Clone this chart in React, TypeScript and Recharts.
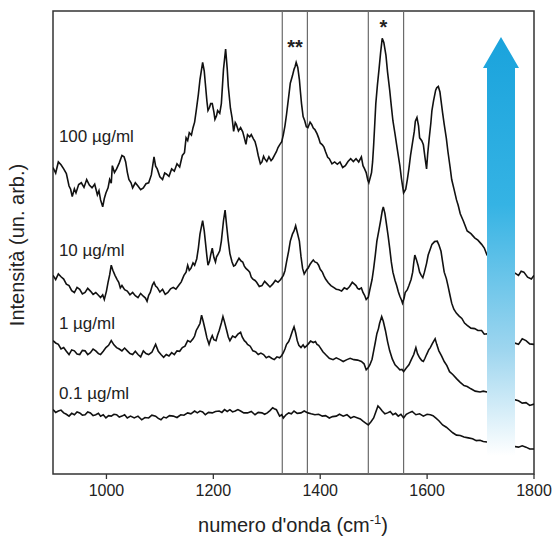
import React from "react";
import {
  LineChart,
  Line,
  XAxis,
  YAxis,
  ReferenceLine,
  ReferenceArea,
  ReferenceDot,
} from "recharts";

// wavenumber (cm-1), intensity (arb. units, stacked spectra)
const conc100: [number, number][] = [
  [900, 66.2], [905, 65.0], [910, 67.4], [915, 66.8], [920, 65.9], [925, 64.9], [930, 62.2], [933, 61.5],
  [936, 59.9], [940, 61.6], [943, 60.7], [948, 62.5], [953, 62.9], [958, 61.9], [963, 63.6], [968, 62.4],
  [973, 61.8], [978, 62.6], [983, 60.3], [986, 61.2], [989, 59.2], [993, 57.7], [996, 59.5], [999, 60.7],
  [1003, 61.8], [1006, 63.6], [1009, 62.8], [1011, 66.6], [1015, 65.1], [1019, 65.9], [1024, 67.2],
  [1029, 68.8], [1033, 68.5], [1036, 67.4], [1039, 65.2], [1042, 63.6], [1046, 62.9], [1049, 61.8],
  [1054, 62.9], [1059, 62.2], [1064, 61.4], [1069, 61.8], [1074, 62.7], [1079, 62.9], [1084, 64.6],
  [1089, 68.5], [1092, 66.5], [1095, 65.9], [1100, 64.2], [1105, 63.6], [1109, 65.0], [1112, 64.8],
  [1117, 64.3], [1122, 65.9], [1127, 65.4], [1132, 67.0], [1137, 66.3], [1142, 68.8], [1146, 69.4],
  [1149, 72.6], [1152, 72.0], [1155, 73.7], [1159, 73.2], [1162, 74.8], [1165, 76.0], [1168, 78.5],
  [1172, 82.0], [1175, 85.2], [1180, 88.9], [1183, 87.0], [1185, 84.4], [1188, 80.5], [1190, 78.5],
  [1193, 79.2], [1195, 80.0], [1198, 80.0], [1201, 78.2], [1203, 76.6], [1206, 77.4], [1208, 78.5],
  [1212, 77.9], [1215, 80.0], [1219, 87.4], [1223, 91.8], [1226, 87.5], [1228, 83.7], [1232, 79.0],
  [1235, 77.0], [1238, 74.0], [1241, 75.9], [1243, 75.5], [1247, 74.1], [1251, 74.8], [1255, 73.9],
  [1258, 72.6], [1261, 71.2], [1264, 73.3], [1268, 72.8], [1271, 73.3], [1275, 72.4], [1278, 71.8],
  [1281, 70.5], [1284, 68.8], [1288, 67.0], [1291, 67.4], [1294, 68.6], [1296, 68.1], [1300, 67.5],
  [1304, 68.5], [1308, 67.7], [1311, 68.1], [1315, 69.0], [1318, 69.6], [1321, 70.5], [1324, 71.1],
  [1328, 71.8], [1331, 73.3], [1334, 75.2], [1337, 77.7], [1341, 81.5], [1344, 84.4], [1348, 86.0],
  [1351, 87.4], [1353, 88.0], [1355, 88.9], [1358, 87.8], [1361, 85.2], [1363, 82.5], [1365, 80.0],
  [1368, 77.2], [1371, 76.3], [1374, 75.0], [1377, 74.8], [1381, 76.0], [1384, 75.5], [1387, 74.7],
  [1390, 74.4], [1394, 73.5], [1397, 72.6], [1400, 71.5], [1404, 71.1], [1407, 70.6], [1410, 69.6],
  [1414, 68.4], [1417, 68.1], [1422, 67.0], [1427, 67.4], [1432, 66.9], [1437, 67.4], [1442, 66.2],
  [1447, 66.6], [1452, 67.5], [1457, 68.1], [1462, 67.5], [1467, 68.1], [1472, 67.4], [1477, 68.5],
  [1480, 66.6], [1483, 65.9], [1486, 65.1], [1489, 63.5], [1491, 62.9], [1494, 64.2], [1496, 65.1],
  [1498, 67.4], [1500, 71.1], [1502, 75.5], [1504, 80.0], [1507, 84.0], [1510, 87.4], [1513, 91.0],
  [1516, 94.1], [1519, 93.2], [1523, 90.4], [1526, 86.8], [1530, 82.9], [1533, 79.5], [1536, 76.3],
  [1540, 73.4], [1543, 71.1], [1546, 68.8], [1549, 66.6], [1552, 63.8], [1556, 60.7], [1560, 61.5],
  [1563, 63.6], [1566, 66.0], [1569, 68.8], [1573, 71.8], [1576, 74.0], [1578, 76.2], [1581, 77.0],
  [1584, 75.2], [1586, 72.6], [1590, 72.0], [1593, 71.1], [1596, 68.4], [1599, 65.9], [1601, 69.0],
  [1604, 72.6], [1607, 75.8], [1609, 78.5], [1612, 80.6], [1616, 82.9], [1618, 83.4], [1621, 83.7],
  [1624, 82.5], [1626, 80.7], [1629, 78.0], [1632, 75.5], [1636, 72.5], [1639, 69.6], [1643, 66.3],
  [1646, 63.6], [1650, 61.7], [1655, 59.2], [1658, 58.1], [1662, 56.2], [1668, 54.6], [1675, 52.5],
  [1682, 51.9], [1689, 51.0], [1695, 50.5], [1702, 49.6], [1707, 48.8], [1712, 47.3], [1771, 42.9],
  [1776, 43.8], [1781, 43.6], [1788, 42.5], [1795, 42.1], [1800, 42.9],
];

const conc10: [number, number][] = [
  [900, 42.9], [905, 42.0], [910, 43.2], [915, 42.6], [920, 42.1], [925, 41.0], [930, 40.7], [935, 39.6],
  [940, 39.2], [945, 40.3], [950, 39.9], [955, 38.9], [960, 39.2], [965, 40.1], [970, 39.5], [975, 38.8],
  [980, 39.2], [985, 38.6], [989, 38.1], [993, 38.7], [996, 37.7], [1000, 39.5], [1003, 41.4],
  [1006, 43.0], [1009, 45.1], [1012, 44.0], [1016, 42.9], [1020, 42.0], [1023, 41.4], [1026, 40.2],
  [1029, 40.7], [1034, 39.8], [1039, 39.5], [1044, 38.7], [1049, 39.2], [1054, 38.5], [1059, 38.1],
  [1064, 39.0], [1069, 38.4], [1073, 38.0], [1076, 37.3], [1079, 38.6], [1082, 39.2], [1086, 40.8],
  [1089, 41.4], [1092, 40.6], [1095, 40.3], [1100, 39.3], [1105, 39.9], [1110, 38.8], [1115, 39.2],
  [1120, 40.0], [1125, 40.3], [1130, 39.9], [1135, 40.7], [1140, 41.5], [1145, 42.9], [1149, 43.6],
  [1152, 45.1], [1155, 44.0], [1158, 44.4], [1162, 45.6], [1165, 45.1], [1169, 46.5], [1172, 48.8],
  [1175, 51.8], [1178, 53.6], [1180, 54.7], [1183, 52.5], [1185, 50.3], [1188, 47.0], [1190, 45.1],
  [1193, 46.0], [1195, 47.3], [1198, 48.8], [1201, 46.8], [1204, 45.8], [1206, 46.9], [1208, 47.3],
  [1212, 48.2], [1215, 50.3], [1219, 54.7], [1222, 57.0], [1225, 53.5], [1228, 50.3], [1231, 47.6],
  [1235, 45.8], [1238, 44.9], [1241, 45.1], [1245, 46.0], [1248, 46.6], [1252, 46.0], [1255, 45.8],
  [1258, 44.9], [1261, 44.4], [1265, 44.0], [1268, 43.6], [1271, 42.5], [1274, 42.1], [1278, 41.8],
  [1281, 41.4], [1286, 40.5], [1291, 40.7], [1296, 41.6], [1301, 41.0], [1306, 40.4], [1311, 41.0],
  [1316, 41.8], [1321, 41.4], [1326, 42.0], [1331, 42.9], [1334, 43.9], [1337, 45.8], [1341, 48.2],
  [1344, 50.3], [1348, 51.8], [1351, 52.5], [1354, 53.6], [1357, 52.2], [1361, 50.3], [1364, 47.0],
  [1367, 44.4], [1370, 43.2], [1372, 43.6], [1375, 44.2], [1377, 44.4], [1381, 45.3], [1384, 45.8],
  [1387, 46.2], [1390, 45.8], [1394, 45.6], [1397, 45.1], [1400, 44.2], [1404, 43.6], [1407, 42.8],
  [1410, 42.1], [1415, 41.3], [1420, 40.7], [1425, 40.3], [1430, 39.9], [1435, 39.8], [1440, 39.5],
  [1445, 40.2], [1450, 39.9], [1455, 40.5], [1460, 41.4], [1464, 41.0], [1467, 40.7], [1470, 40.1],
  [1473, 39.9], [1477, 40.2], [1480, 39.2], [1483, 38.6], [1486, 37.7], [1490, 38.2], [1493, 39.9],
  [1497, 42.0], [1500, 44.4], [1503, 47.2], [1506, 50.3], [1510, 52.8], [1513, 54.7], [1516, 56.8],
  [1518, 57.7], [1521, 56.3], [1523, 54.7], [1527, 51.5], [1530, 48.8], [1533, 45.8], [1536, 43.6],
  [1540, 41.8], [1543, 40.7], [1546, 39.4], [1549, 38.4], [1552, 37.6], [1554, 36.9], [1557, 38.0],
  [1559, 39.2], [1563, 39.8], [1566, 40.7], [1570, 42.0], [1573, 43.6], [1575, 45.6], [1577, 47.3],
  [1580, 46.3], [1583, 45.1], [1586, 43.6], [1589, 42.9], [1592, 42.4], [1595, 43.6], [1599, 45.5],
  [1602, 47.3], [1606, 48.6], [1609, 49.6], [1614, 50.2], [1619, 50.3], [1622, 49.5], [1626, 48.1],
  [1629, 45.8], [1632, 43.6], [1636, 42.2], [1639, 40.7], [1643, 38.5], [1646, 36.9], [1650, 35.6],
  [1655, 34.7], [1660, 34.1], [1665, 33.6], [1670, 32.6], [1675, 32.1], [1682, 31.5], [1689, 31.4],
  [1695, 31.0], [1702, 31.0], [1707, 30.2], [1712, 30.3], [1771, 28.0], [1778, 29.2], [1785, 28.8],
  [1792, 28.1], [1800, 28.0],
];

const conc1: [number, number][] = [
  [900, 28.8], [905, 28.3], [910, 28.0], [915, 27.0], [920, 27.3], [925, 26.5], [930, 25.8], [935, 26.8],
  [940, 26.6], [945, 25.9], [950, 25.8], [955, 26.7], [960, 26.6], [965, 25.8], [970, 26.2], [975, 27.0],
  [980, 26.6], [985, 26.0], [989, 25.8], [994, 26.5], [999, 27.3], [1004, 27.8], [1009, 28.8],
  [1014, 27.9], [1019, 27.3], [1024, 27.0], [1029, 26.6], [1034, 27.2], [1039, 26.6], [1044, 26.0],
  [1049, 25.8], [1054, 26.5], [1059, 25.8], [1064, 25.3], [1069, 26.6], [1074, 26.0], [1079, 25.8],
  [1085, 26.3], [1092, 28.0], [1097, 26.5], [1102, 25.8], [1107, 25.2], [1112, 25.8], [1117, 25.5],
  [1122, 26.2], [1127, 25.8], [1132, 26.6], [1137, 26.5], [1142, 27.3], [1147, 27.6], [1152, 28.8],
  [1157, 28.5], [1162, 29.2], [1165, 29.8], [1168, 31.0], [1171, 31.6], [1175, 32.5], [1178, 34.3],
  [1181, 33.0], [1185, 31.0], [1188, 29.4], [1192, 28.0], [1195, 29.1], [1198, 29.9], [1201, 29.0],
  [1205, 28.8], [1208, 30.0], [1211, 31.0], [1215, 32.6], [1218, 34.0], [1221, 32.8], [1225, 31.0],
  [1228, 29.6], [1231, 28.8], [1236, 29.8], [1241, 29.5], [1246, 30.2], [1251, 30.6], [1254, 29.6],
  [1258, 28.8], [1261, 28.5], [1264, 28.0], [1269, 27.6], [1274, 26.6], [1279, 26.4], [1284, 25.8],
  [1289, 26.1], [1294, 25.8], [1299, 25.1], [1304, 25.4], [1309, 25.0], [1314, 24.7], [1319, 25.3],
  [1324, 25.1], [1328, 25.6], [1331, 26.2], [1334, 27.0], [1337, 28.0], [1341, 28.6], [1344, 29.5],
  [1348, 30.9], [1351, 31.8], [1354, 30.5], [1357, 28.8], [1360, 27.8], [1364, 27.3], [1368, 27.9],
  [1371, 27.3], [1374, 27.6], [1377, 28.0], [1382, 28.7], [1387, 28.4], [1391, 28.6], [1394, 28.0],
  [1397, 27.8], [1400, 27.3], [1405, 26.4], [1410, 25.8], [1417, 25.0], [1424, 24.7], [1430, 25.1],
  [1437, 24.7], [1443, 24.3], [1450, 24.7], [1456, 25.0], [1463, 24.7], [1470, 24.6], [1477, 24.3],
  [1482, 23.8], [1486, 22.5], [1490, 23.0], [1493, 23.6], [1497, 24.8], [1500, 26.6], [1503, 28.4],
  [1506, 30.3], [1509, 31.4], [1511, 32.5], [1515, 34.0], [1518, 33.0], [1522, 31.0], [1526, 28.6],
  [1530, 26.6], [1535, 24.8], [1540, 23.6], [1545, 23.0], [1549, 22.5], [1553, 22.6], [1556, 22.1],
  [1561, 22.9], [1566, 23.6], [1570, 24.6], [1575, 25.8], [1579, 27.3], [1582, 26.0], [1586, 25.1],
  [1590, 24.5], [1593, 24.3], [1596, 25.0], [1599, 25.8], [1603, 26.8], [1606, 27.3], [1610, 28.2],
  [1615, 29.2], [1618, 28.0], [1622, 26.6], [1627, 25.5], [1632, 24.3], [1637, 23.4], [1642, 22.1],
  [1648, 21.5], [1655, 20.6], [1662, 19.8], [1669, 19.1], [1675, 18.9], [1682, 18.4], [1690, 17.9],
  [1699, 17.7], [1705, 17.9], [1712, 17.7], [1771, 15.8], [1778, 15.3], [1785, 15.4], [1792, 14.8],
  [1800, 15.1],
];

const conc01: [number, number][] = [
  [900, 13.9], [905, 13.3], [910, 13.6], [915, 13.8], [920, 13.2], [925, 12.9], [930, 12.5], [935, 13.1],
  [940, 12.8], [945, 13.4], [950, 13.2], [955, 12.7], [960, 12.8], [965, 13.4], [970, 13.2], [975, 12.6],
  [980, 12.8], [985, 13.1], [989, 12.5], [994, 12.8], [999, 12.1], [1004, 12.6], [1009, 12.5],
  [1014, 12.9], [1019, 12.8], [1024, 12.3], [1029, 12.5], [1034, 12.8], [1039, 12.1], [1045, 12.5],
  [1052, 12.1], [1059, 12.5], [1066, 11.7], [1072, 12.2], [1079, 12.1], [1085, 12.7], [1092, 12.5],
  [1097, 12.0], [1102, 11.7], [1107, 12.3], [1112, 12.1], [1118, 12.6], [1125, 12.5], [1132, 12.2],
  [1139, 12.8], [1145, 12.7], [1152, 13.2], [1158, 13.0], [1165, 13.6], [1170, 13.2], [1175, 13.6],
  [1180, 13.4], [1185, 12.8], [1191, 13.3], [1198, 13.2], [1204, 13.5], [1211, 13.6], [1216, 13.3],
  [1221, 13.9], [1226, 13.5], [1231, 13.9], [1236, 13.4], [1241, 13.6], [1246, 13.9], [1251, 13.6],
  [1257, 13.2], [1264, 13.2], [1271, 13.5], [1278, 12.8], [1284, 13.3], [1291, 13.2], [1296, 12.9],
  [1301, 13.2], [1306, 13.7], [1311, 14.3], [1314, 14.1], [1318, 13.9], [1321, 13.2], [1324, 12.5],
  [1328, 12.8], [1331, 12.1], [1336, 12.8], [1341, 13.2], [1346, 13.0], [1351, 13.6], [1357, 13.1],
  [1364, 13.2], [1370, 13.6], [1377, 13.2], [1383, 13.0], [1390, 12.8], [1397, 12.9], [1404, 12.5],
  [1410, 12.6], [1417, 12.1], [1423, 12.4], [1430, 12.5], [1436, 12.9], [1443, 12.5], [1450, 12.8],
  [1457, 12.1], [1463, 12.4], [1470, 12.1], [1475, 11.9], [1480, 11.4], [1485, 11.0], [1490, 10.6],
  [1495, 11.3], [1500, 12.1], [1504, 13.4], [1508, 14.7], [1512, 14.2], [1516, 13.6], [1521, 13.0],
  [1526, 13.2], [1531, 13.5], [1536, 12.8], [1541, 13.1], [1546, 12.5], [1551, 12.9], [1556, 12.1],
  [1561, 12.9], [1566, 13.2], [1572, 13.5], [1579, 12.8], [1586, 13.0], [1593, 12.5], [1600, 12.9],
  [1606, 12.8], [1611, 12.6], [1616, 12.1], [1622, 11.5], [1629, 10.6], [1636, 10.1], [1642, 9.5],
  [1648, 8.9], [1655, 8.4], [1662, 8.3], [1669, 8.0], [1677, 7.8], [1685, 7.6], [1692, 7.2],
  [1699, 7.3], [1705, 7.0], [1712, 6.9], [1771, 5.8], [1778, 6.1], [1785, 5.8], [1792, 5.4],
  [1800, 5.4],
];

const seriesNames = ["100 µg/ml", "10 µg/ml", "1 µg/ml", "0.1 µg/ml"];
const seriesData = [conc100, conc10, conc1, conc01];
const xTicks = [1000, 1200, 1400, 1600, 1800];
const bandLines = [1329, 1376, 1490, 1556];
const bandMarks = [
  { wn: 1353, level: 90.8, text: "**" },
  { wn: 1518, level: 95.1, text: "*" },
];

// label anchors (wavenumber, intensity) for the concentration names
const labelPos = [
  [911, 73.0],
  [911, 48.4],
  [911, 32.6],
  [911, 17.5],
];

const FONT = "'Liberation Sans', Arial, Helvetica, sans-serif";

const toRows = (pts: [number, number][]) => pts.map(([wn, v]) => ({ wn, v }));

// gradient arrow drawn over the spectra (concentration increasing upwards)
function ConcentrationArrow() {
  const left = 487;
  const right = 515;
  const over = 4;
  const tipY = 37;
  const headY = 68;
  const bottom = 456;
  const cx = (left + right) / 2;
  const d = `M${cx},${tipY} L${right + over},${headY} L${right},${headY} L${right},${bottom} L${left},${bottom} L${left},${headY} L${left - over},${headY} Z`;
  return (
    <svg
      width={554}
      height={541}
      style={{ position: "absolute", left: 0, top: 0, pointerEvents: "none" }}
    >
      <defs>
        <linearGradient id="arrowGrad" x1="0" y1="0" x2="0" y2="1">
          <stop offset="0%" stopColor="#1aa3dc" />
          <stop offset="40%" stopColor="#35b3e4" />
          <stop offset="75%" stopColor="#9fd6ef" />
          <stop offset="100%" stopColor="#ffffff" />
        </linearGradient>
      </defs>
      <path d={d} fill="url(#arrowGrad)" />
    </svg>
  );
}

export default function App() {
  return (
    <div style={{ position: "absolute", left: 0, top: 0, width: 554, height: 541, background: "#fff" }}>
      <LineChart
        width={554}
        height={541}
        margin={{ top: 11, right: 20, bottom: 37, left: 53 }}
        style={{ fontFamily: FONT }}
      >
        <XAxis
          dataKey="wn"
          type="number"
          domain={[900, 1800]}
          ticks={xTicks}
          allowDataOverflow
          height={30}
          axisLine={false}
          tickSize={5}
          tickMargin={6}
          tickLine={{ stroke: "#333", strokeWidth: 1.3 }}
          tick={{ fontSize: 16, fill: "#222", fontFamily: FONT }}
        />
        <YAxis type="number" domain={[0, 100]} hide />
        {bandLines.map((wn) => (
          <ReferenceLine key={wn} x={wn} stroke="#6b6b6b" strokeWidth={1.2} />
        ))}
        {seriesData.map((pts, i) => (
          <Line
            key={seriesNames[i]}
            data={toRows(pts)}
            dataKey="v"
            type="linear"
            stroke="#111"
            strokeWidth={1.6}
            dot={false}
            isAnimationActive={false}
          />
        ))}
        <ReferenceArea
          x1={900}
          x2={1800}
          y1={0}
          y2={100}
          fill="none"
          fillOpacity={0}
          stroke="#333"
          strokeWidth={1.5}
          ifOverflow="visible"
        />
        {bandMarks.map((m) => (
          <ReferenceDot
            key={m.text}
            x={m.wn}
            y={m.level}
            r={0}
            ifOverflow="visible"
            shape={(p: any) => (
              <text
                x={p.cx}
                y={p.cy}
                textAnchor="middle"
                fontSize={20}
                fontWeight="bold"
                fill="#222"
                fontFamily={FONT}
              >
                {m.text}
              </text>
            )}
          />
        ))}
        {seriesNames.map((name, i) => (
          <ReferenceDot
            key={name}
            x={labelPos[i][0]}
            y={labelPos[i][1]}
            r={0}
            ifOverflow="visible"
            shape={(p: any) => (
              <text x={p.cx} y={p.cy + 6} fontSize={17} fill="#222" fontFamily={FONT}>
                {name}
              </text>
            )}
          />
        ))}
        <text
          x={293}
          y={532}
          textAnchor="middle"
          fontSize={20}
          fill="#222"
          fontFamily={FONT}
        >
          numero d'onda (cm
          <tspan dy={-8} fontSize={13}>-1</tspan>
          <tspan dy={8}>)</tspan>
        </text>
        <text
          x={24}
          y={245}
          transform="rotate(-90 24 245)"
          textAnchor="middle"
          fontSize={20}
          fill="#222"
          fontFamily={FONT}
        >
          Intensità (un. arb.)
        </text>
      </LineChart>
      <ConcentrationArrow />
    </div>
  );
}
